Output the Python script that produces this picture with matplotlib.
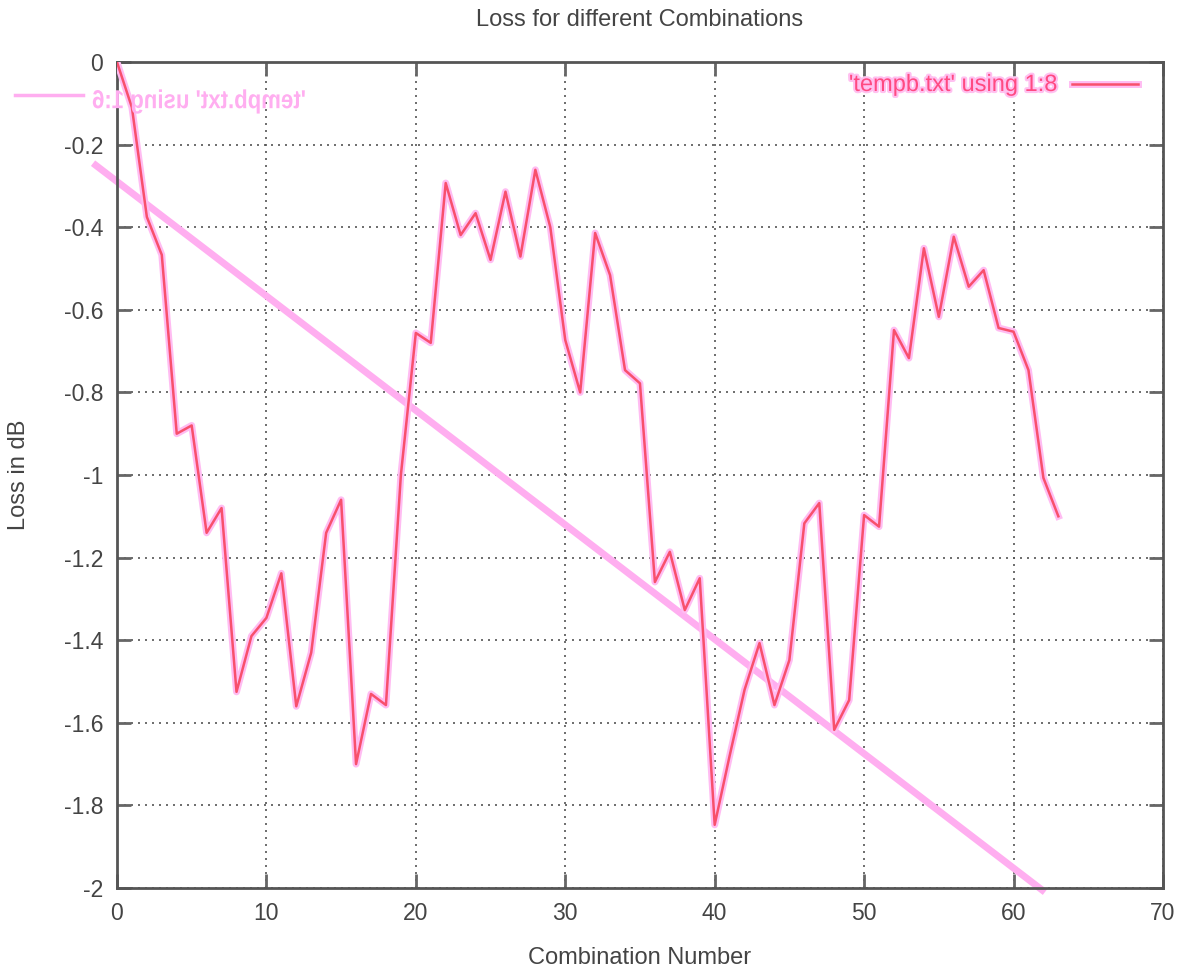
import matplotlib
matplotlib.use("Agg")
import matplotlib.pyplot as plt
from matplotlib.textpath import TextPath
from matplotlib.patches import PathPatch
from matplotlib.font_manager import FontProperties
from matplotlib.transforms import Affine2D, IdentityTransform
import matplotlib.patheffects as pe

plt.rcParams['font.family'] = ['Liberation Sans', 'DejaVu Sans']
plt.rcParams['axes.unicode_minus'] = False

# column 8 of tempb.txt
comb = list(range(64))
loss8 = [0.0, -0.11, -0.375, -0.467, -0.90, -0.88, -1.14, -1.08, -1.525, -1.39,
         -1.346, -1.238, -1.56, -1.43, -1.14, -1.06, -1.70, -1.53, -1.557, -1.00,
         -0.656, -0.68, -0.293, -0.419, -0.366, -0.479, -0.314, -0.471, -0.261, -0.40,
         -0.673, -0.80, -0.414, -0.516, -0.746, -0.778, -1.259, -1.186, -1.327, -1.25,
         -1.847, -1.68, -1.52, -1.407, -1.557, -1.448, -1.117, -1.068, -1.617, -1.545,
         -1.097, -1.125, -0.649, -0.717, -0.451, -0.617, -0.423, -0.544, -0.504, -0.644,
         -0.653, -0.746, -1.007, -1.10]

# column 6, a straight fit line
comb6 = [-1.6, 62.1]
loss6 = [-0.245, -2.01]

xticks = [0, 10, 20, 30, 40, 50, 60, 70]
yticks = [0, -0.2, -0.4, -0.6, -0.8, -1, -1.2, -1.4, -1.6, -1.8, -2]

red = '#f8506c'
glow = '#ffbcf2'
pink6 = '#ffaef0'
grey = '#444444'

fig = plt.figure(figsize=(11.85, 9.72), dpi=100)
ax = fig.add_axes([0.0987, 0.0864, 0.8827, 0.8498])

ax.plot(comb6, loss6, color=pink6, lw=5, solid_capstyle='butt', clip_on=False, zorder=2)
ax.plot(comb, loss8, color=red, lw=1.8, zorder=3,
        path_effects=[pe.Stroke(linewidth=5, foreground=glow), pe.Normal()])

ax.set_xlim(0, 70)
ax.set_ylim(-2, 0)
ax.set_xticks(xticks)
ax.set_yticks(yticks)
ax.set_yticklabels(['%g' % v for v in yticks])
ax.grid(True, color='#555555', linestyle=(0, (1.2, 3)), lw=1.2)
ax.tick_params(direction='in', length=10, width=2, color='#666666',
               labelsize=16.5, labelcolor=grey, top=True, right=True, pad=10)
for s in ax.spines.values():
    s.set_color('#555555')
    s.set_linewidth(2)

ax.set_title('Loss for different Combinations', fontsize=17, color=grey, pad=26)
ax.set_xlabel('Combination Number', fontsize=17, color=grey, labelpad=16)
ax.set_ylabel('Loss in dB', fontsize=17, color=grey, labelpad=24)

# key for column 8, top right
H = 972
fig.text(1058 / 1185, 1 - 85 / H, "'tempb.txt' using 1:8", ha='right', va='center',
         fontsize=17, color='#ff4a82',
         path_effects=[pe.Stroke(linewidth=3, foreground='#ffc0f0'), pe.Normal()])
fig.add_artist(plt.Line2D([1072 / 1185, 1138 / 1185], [1 - 84 / H, 1 - 84 / H],
                          transform=fig.transFigure, color=red, lw=1.8,
                          path_effects=[pe.Stroke(linewidth=5, foreground=glow), pe.Normal()]))

# key for column 6, showing through reversed from the other side of the sheet
fig.add_artist(plt.Line2D([15 / 1185, 83 / 1185], [1 - 95 / H, 1 - 95 / H],
                          transform=fig.transFigure, color=pink6, lw=2.5))
tp = TextPath((0, 0), "'tempb.txt' using 1:6", size=26,
              prop=FontProperties(family='Liberation Sans', weight='bold'))
bb = tp.get_extents()
sx = 212 / bb.width
tr = Affine2D().scale(-sx, 1).translate(306, H - 96 - bb.height / 2)
fig.add_artist(PathPatch(tr.transform_path(tp), transform=IdentityTransform(),
                         facecolor=pink6, edgecolor='none'))

fig.savefig('out.png', dpi=100)
